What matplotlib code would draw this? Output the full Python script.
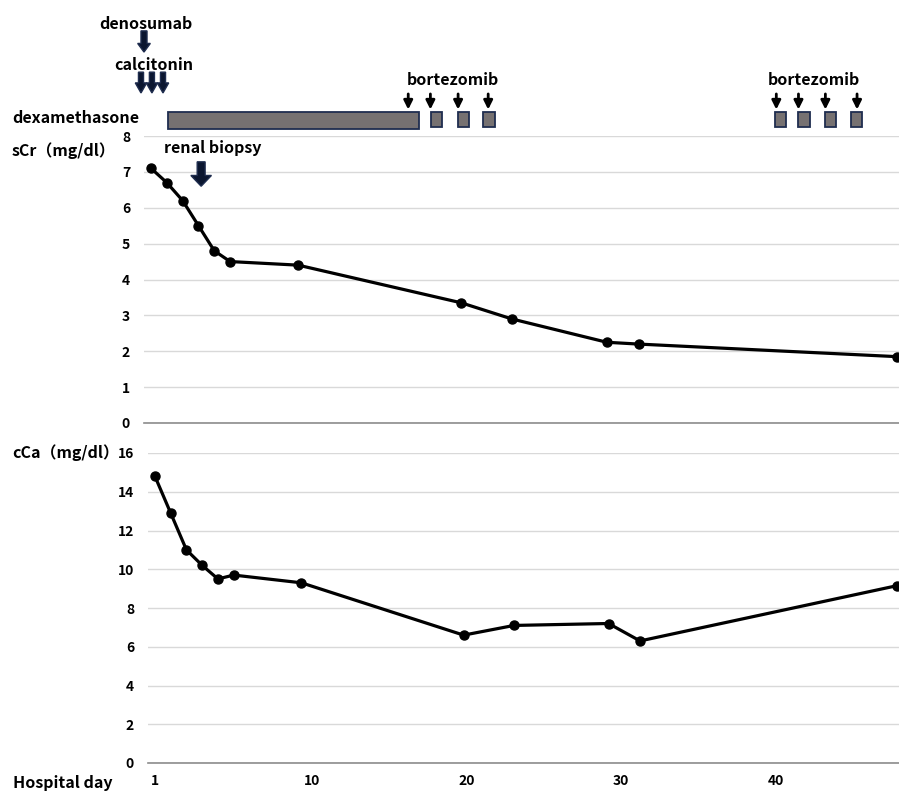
import matplotlib
matplotlib.use("Agg")
import matplotlib.pyplot as plt
from matplotlib.patches import FancyArrow, Rectangle

plt.rcParams['font.family'] = ['Noto Sans CJK JP', 'DejaVu Sans']

# hospital day positions on the axis (label "1" sits at 0)
day_pos = [0, 1, 2, 3, 4, 5, 9.3, 19.6, 22.8, 28.8, 30.8, 47.1]
scr = [7.1, 6.7, 6.2, 5.5, 4.8, 4.5, 4.4, 3.35, 2.9, 2.25, 2.2, 1.85]
cca = [14.8, 12.9, 11.0, 10.2, 9.5, 9.7, 9.3, 6.6, 7.1, 7.2, 6.3, 9.15]

day_ticks = [0, 10, 19.8, 29.6, 39.4]
day_labels = ['1', '10', '20', '30', '40']

# treatments (axis positions)
dexa_start, dexa_end = 1.08, 16.95
bortezomib_boxes = [17.7, 19.4, 21.0, 39.4, 40.9, 42.6, 44.2]
bortezomib_arrows = [16.25, 17.65, 19.4, 21.3, 39.5, 40.9, 42.6, 44.6]
calcitonin_days = [-0.63, 0.06, 0.76]
denosumab_day = -0.44
biopsy_day = 3.17

W, H = 899, 791
fig = plt.figure(figsize=(W / 100, H / 100), dpi=100)

def ax_rect(left, top, right, bottom):
    return [left / W, 1 - bottom / H, (right - left) / W, (bottom - top) / H]

ax1 = fig.add_axes(ax_rect(144, 136, 899, 423))
ax2 = fig.add_axes(ax_rect(148, 453, 899, 763))

grid_col = '#d9d9d9'
axis_col = '#8c8c8c'
navy = '#1f2d4f'

for ax, vals, ymax, step in [(ax1, scr, 8, 1), (ax2, cca, 16, 2)]:
    ax.plot(day_pos, vals, color='black', lw=2.3, marker='o', ms=6.5, clip_on=False, zorder=5)
    ax.set_ylim(0, ymax)
    ax.set_yticks(range(0, ymax + 1, step))
    ax.grid(axis='y', color=grid_col, lw=1.0)
    ax.set_axisbelow(True)
    for s in ['top', 'right', 'left']:
        ax.spines[s].set_visible(False)
    ax.spines['bottom'].set_color(axis_col)
    ax.spines['bottom'].set_linewidth(1.2)
    ax.tick_params(axis='y', length=0, pad=10, labelsize=10)
    for lab in ax.get_yticklabels():
        lab.set_fontweight('bold')

ax1.set_xlim(-0.44, 47.25)
ax2.set_xlim(-0.44, 47.24)
ax1.set_xticks([])
ax2.set_xticks(day_ticks)
ax2.set_xticklabels(day_labels, fontsize=10, fontweight='bold')
ax2.tick_params(axis='x', length=0, pad=8)

# treatment bars
box_kw = dict(facecolor='#767171', edgecolor=navy, lw=1.3, clip_on=False)
ax1.add_patch(Rectangle((dexa_start, 8.2), dexa_end - dexa_start, 0.47, **box_kw))
for b in bortezomib_boxes:
    ax1.add_patch(Rectangle((b, 8.24), 0.7, 0.42, **box_kw))

for b in bortezomib_arrows:
    ax1.annotate('', xy=(b, 8.66), xytext=(b, 9.25), annotation_clip=False,
                 arrowprops=dict(arrowstyle='-|>', color='black', lw=2, mutation_scale=13))

blk = dict(fc='#0b1630', ec=navy, lw=1, clip_on=False, length_includes_head=True)
ax1.add_patch(FancyArrow(denosumab_day, 10.93, 0, -0.59, width=0.38, head_width=0.8,
                         head_length=0.24, **blk))
for c in calcitonin_days:
    ax1.add_patch(FancyArrow(c, 9.78, 0, -0.58, width=0.32, head_width=0.72,
                             head_length=0.28, **blk))
ax1.add_patch(FancyArrow(biopsy_day, 7.28, 0, -0.68, width=0.5, head_width=1.3,
                         head_length=0.3, **blk))

txt = dict(fontsize=11.5, fontweight='bold', ha='center', va='center', clip_on=False)
ax1.text(-0.32, 11.12, 'denosumab', **txt)
ax1.text(0.19, 9.98, 'calcitonin', **txt)
ax1.text(19.1, 9.56, 'bortezomib', **txt)
ax1.text(41.9, 9.56, 'bortezomib', **txt)
ax1.text(3.9, 7.67, 'renal biopsy', **txt)

def ftext(px, py, s):
    fig.text(px / W, 1 - py / H, s, fontsize=11.5, fontweight='bold', ha='left', va='center')

ftext(12, 118, 'dexamethasone')
ftext(12, 151, 'sCr（mg/dl）')
ftext(12, 453, 'cCa（mg/dl）')
ftext(13, 783, 'Hospital day')

fig.savefig('out.png', dpi=100)
